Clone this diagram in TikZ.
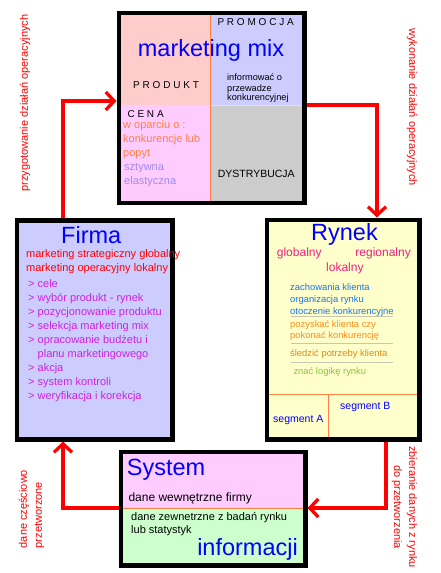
\documentclass[tikz,border=0pt]{standalone}
\usepackage{fontspec}
\setmainfont{Liberation Sans}
\newfontfamily\spacedfont[LetterSpace=28]{Liberation Sans}
\usetikzlibrary{arrows.meta}
\usepackage{xcolor}
\definecolor{cBlue}{HTML}{0000FF}
\definecolor{cRed}{HTML}{FF0000}
\definecolor{fMixA}{HTML}{FFCCCC}
\definecolor{fMixB}{HTML}{CCCCFF}
\definecolor{fMixC}{HTML}{FFCCFF}
\definecolor{fMixD}{HTML}{CCCCCC}
\definecolor{fFirma}{HTML}{CCCCFF}
\definecolor{fRynek}{HTML}{FFFFCC}
\definecolor{fSysA}{HTML}{FFCCFF}
\definecolor{fSysB}{HTML}{CCFFCC}
\definecolor{lOrange}{HTML}{FF8040}
\definecolor{lGray}{HTML}{C8C8B0}
\definecolor{tOrange}{HTML}{FF8040}
\definecolor{tLav}{HTML}{A08AF0}
\definecolor{tMag}{HTML}{CC22DD}
\definecolor{tPink}{HTML}{F0207F}
\definecolor{tSky}{HTML}{1A75E8}
\definecolor{tAmber}{HTML}{FF8C1A}
\definecolor{tOchre}{HTML}{D98C1A}
\definecolor{tLime}{HTML}{8CC43C}
\newcommand{\tightlines}{\lineskiplimit=-10pt\relax}
\tikzset{
  frame/.style={draw=black, line width=4.5pt, inner sep=0pt},
  title/.style={font=\fontsize{23.5}{24}\selectfont, text=cBlue, inner sep=0pt, anchor=base west},
  cell/.style={font=\spacedfont\fontsize{10}{12}\selectfont, inner sep=0pt, anchor=base west},
  txt/.style={font=\fontsize{11}{14}\selectfont, inner sep=0pt, anchor=base west},
  lst/.style={font=\fontsize{11}{14}\selectfont, inner sep=0pt, anchor=north west, align=left},
  rtxt/.style={font=\fontsize{12}{14}\selectfont, text=tPink},
  smalltxt/.style={font=\fontsize{9.4}{12}\selectfont},
  segtxt/.style={font=\fontsize{10.5}{12}\selectfont, text=cBlue},
  sepline/.style={draw=lGray, line width=1pt},
  segline/.style={draw=lOrange, line width=1pt},
  arr/.style={draw=cRed, line width=3.3pt, -{Straight Barb[length=8.5pt,width=18pt]}},
  sidelbl/.style={font=\fontsize{11}{15}\selectfont, text=cRed, inner sep=0pt},
}

\begin{document}
\begin{tikzpicture}[x=1pt, y=-1pt]
\useasboundingbox (0,0) rectangle (440,573);

% Marketing mix
\fill[fMixA] (121,15) rectangle (210,105);
\fill[fMixB] (210,15) rectangle (302,105);
\fill[fMixC] (121,105) rectangle (210,200.5);
\fill[fMixD] (210,105) rectangle (302,200.5);
\draw[fMixC, line width=1pt] (210,105.5) -- (302,105.5);
\draw[segline] (210,15) -- (210,200.5);

\node[title, anchor=base] (mixttl) at (211,56) {marketing mix};
\node[cell] (promo) at (217.3,25.7) {PROMOCJA};
\node[cell] (prod) at (133,88.3) {PRODUKT};
\node[cell] (cena) at (127.3,117.3) {CENA};
\node[txt, font=\fontsize{10.5}{12}\selectfont] (dystr) at (217.7,177.3) {DYSTRYBUCJA};
\node[lst, font=\fontsize{9.2}{8.5}\selectfont] (przew) at (227,74)
  {\tightlines\strut informować o\\przewadze\\konkurencyjnej};
\node[lst, text=tOrange] (wopar) at (123,118.5) {\strut w oparciu o :\\konkurencje lub\\popyt};
\node[lst, text=tLav] (sztyw) at (124,160.9) {\strut sztywna\\elastyczna};
\node[frame, minimum width=185.5pt, minimum height=190pt] (mix) at (211.5,107.75) {};

% Firma
\node[frame, fill=fFirma, minimum width=155.5pt, minimum height=219pt] (firma) at (94.5,329.75) {};
\node[title] (firmattl) at (61,243.3) {Firma};
\node[lst, text=cRed] (firmamk) at (26,247.9)
  {\strut marketing strategiczny globalny\\marketing operacyjny lokalny};
\node[lst, text=tMag] (firmalst) at (28,277.9)
  {\strut > cele\\> wybór produkt - rynek\\> pozycjonowanie produktu\\> selekcja marketing mix\\%
   > opracowanie budżetu i\\\hspace*{9.5pt}planu marketingowego\\> akcja\\> system kontroli\\%
   > weryfikacja i korekcja};

% Rynek
\node[frame, fill=fRynek, minimum width=152.5pt, minimum height=219.5pt] (rynek) at (343,329.5) {};
\node[title] (rynekttl) at (311,240) {Rynek};
\node[txt, rtxt] (glob) at (276.7,256.7) {globalny};
\node[txt, rtxt, anchor=base east] (reg) at (411,256.7) {regionalny};
\node[txt, rtxt] (lok) at (326,271) {lokalny};
\node[lst, smalltxt, text=tSky] (zach) at (290,281.6)
  {\strut zachowania klienta\\organizacja rynku\\otoczenie konkurencyjne};
\draw[sepline] (291,316) -- (393,316);
\node[lst, font=\fontsize{9.4}{11}\selectfont, text=tAmber] (pozysk) at (290,319.6)
  {\strut pozyskać klienta czy\\pokonać konkurencję};
\draw[sepline] (291,343) -- (393,343);
\node[txt, smalltxt, text=tOchre] (sledz) at (290,356.7) {śledzić potrzeby klienta};
\draw[sepline] (291,362) -- (393,362);
\node[txt, smalltxt, text=tLime] (znac) at (293.3,374.3) {znać logikę rynku};
\draw[segline] (269,394) -- (417,394);
\draw[segline] (328.3,394) -- (328.3,437);
\node[txt, segtxt] (segb) at (340,409.3) {segment B};
\node[txt, segtxt] (sega) at (273,422.7) {segment A};

% System informacji
\fill[fSysA] (123,454) rectangle (303,508);
\fill[fSysB] (123,508) rectangle (303,563);
\draw[segline] (123,508) -- (303,508);
\node[title] (systtl) at (126.7,475) {System};
\node[txt, font=\fontsize{12}{14}\selectfont] (wewn) at (128.3,501) {dane wewnętrzne firmy};
\node[lst, font=\fontsize{11}{13.3}\selectfont] (zewn) at (131,510.7)
  {\strut dane zewnetrzne z badań rynku\\lub statystyk};
\node[title, anchor=base east] (infttl) at (298,555) {informacji};
\node[frame, minimum width=184.5pt, minimum height=113.5pt] (system) at (213,508.5) {};

% Side labels
\node[sidelbl, rotate=90] (prep) at (25,103) {przygotowanie działań operacyjnych};
\node[sidelbl, rotate=-90] (exec) at (412,107) {wykonanie działań operacyjnych};
\node[sidelbl, rotate=-90, align=center] (collect) at (404.5,507) {zbieranie danych z rynku\\do przetworzenia};
\node[sidelbl, rotate=90, align=left] (partial) at (31.5,509) {dane częściowo\\przetworzone};

% Cycle arrows
\coordinate (b1) at (63,101);
\coordinate (b2) at (377,105);
\coordinate (b3) at (386,508);
\coordinate (b4) at (63,508);
\draw[arr] (firma.north -| b1) |- (mix.west |- b1);
\draw[arr] (mix.east |- b2) -| (rynek.north -| b2);
\draw[arr] (rynek.south -| b3) |- (system.east |- b3);
\draw[arr] (system.west |- b4) -| (firma.south -| b4);

\end{tikzpicture}
\end{document}
